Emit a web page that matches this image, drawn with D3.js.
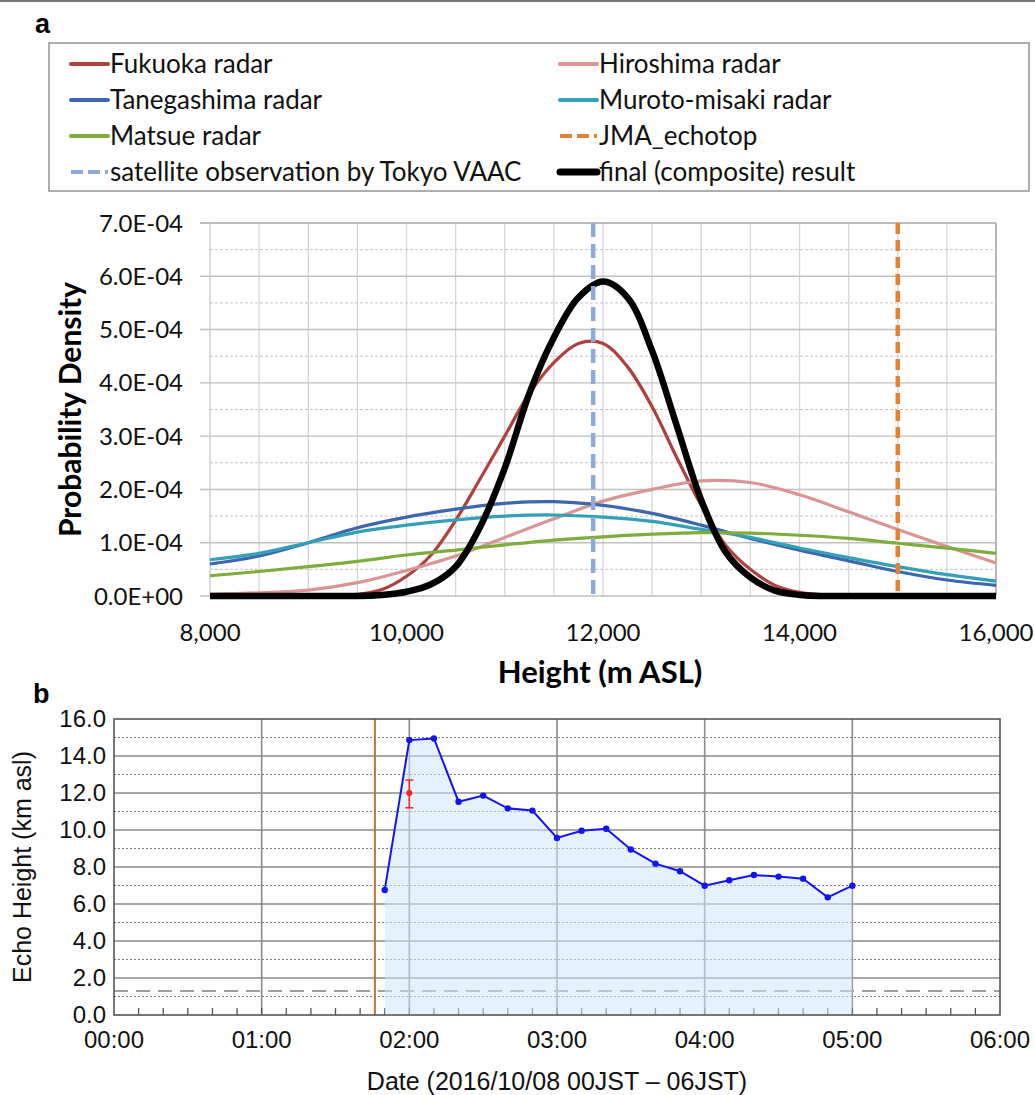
<!DOCTYPE html>
<html lang="en">
<head>
<meta charset="UTF-8">
<title>Echo height</title>
<script src="https://cdn.jsdelivr.net/npm/d3@7"></script>
<style>
  body { margin: 0; background: #fff; }
  svg { display: block; }
</style>
</head>
<body>
<svg width="1035" height="1095"></svg>
<script>
// ---- panel a : probability density (x 1e-4) against height (m ASL)
const heightsFine = [8000, 8250, 8500, 8750, 9000, 9250, 9500, 9750, 10000, 10250, 10500, 10750,
  11000, 11250, 11500, 11750, 12000, 12250, 12500, 12750, 13000, 13250, 13500, 13750,
  14000, 14250, 14500, 14750, 15000, 15250, 15500, 15750, 16000];
const fukuoka = [0, 0, 0, 0, 0, 0.01, 0.03, 0.12, 0.37, 0.77, 1.42, 2.2,
  3.0, 3.8, 4.38, 4.74, 4.74, 4.3, 3.55, 2.6, 1.7, 0.95, 0.5, 0.2,
  0.07, 0.02, 0.01, 0, 0, 0, 0, 0, 0];
const finalResult = [0, 0, 0, 0, 0, 0, 0, 0.02, 0.08, 0.22, 0.55, 1.3,
  2.4, 3.8, 4.85, 5.6, 5.9, 5.6, 4.6, 3.2, 1.8, 0.82, 0.35, 0.1,
  0.02, 0, 0, 0, 0, 0, 0, 0, 0];

const heightsWide = [8000, 8500, 9000, 9500, 10000, 10500, 11000, 11500, 12000,
  12500, 13000, 13500, 14000, 14500, 15000, 15500, 16000];
const hiroshima   = [0.03, 0.06, 0.11, 0.25, 0.48, 0.75, 1.1, 1.45, 1.78, 2.0, 2.16, 2.13, 1.9, 1.58, 1.25, 0.93, 0.62];
const tanegashima = [0.6, 0.75, 1.0, 1.28, 1.48, 1.63, 1.74, 1.77, 1.7, 1.55, 1.33, 1.08, 0.86, 0.66, 0.46, 0.3, 0.2];
const muroto      = [0.68, 0.8, 1.0, 1.2, 1.33, 1.43, 1.5, 1.52, 1.48, 1.4, 1.25, 1.1, 0.9, 0.72, 0.55, 0.4, 0.28];
const matsue      = [0.38, 0.46, 0.55, 0.65, 0.77, 0.86, 0.96, 1.05, 1.11, 1.16, 1.19, 1.18, 1.14, 1.08, 0.99, 0.9, 0.8];

const satelliteHeight = 11900;
const jmaEchotop = 15000;

// ---- panel b : echo height (km asl) against time (JST)
const echoTimes = ["01:50", "02:00", "02:10", "02:20", "02:30", "02:40", "02:50", "03:00", "03:10", "03:20",
  "03:30", "03:40", "03:50", "04:00", "04:10", "04:20", "04:30", "04:40", "04:50", "05:00"];
const echoHeights = [6.76, 14.86, 14.95, 11.53, 11.86, 11.17, 11.05, 9.57, 9.96, 10.07,
  8.95, 8.18, 7.77, 6.99, 7.28, 7.57, 7.48, 7.37, 6.36, 6.99];
const vaacTime = "02:00", vaacHeight = 12.0, vaacLow = 11.2, vaacHigh = 12.7;
const eruptionTime = "01:46";
const groundLevel = 1.3;
const hourLabels = ["00:00", "01:00", "02:00", "03:00", "04:00", "05:00", "06:00"];

const toMin = s => { const [h, m] = s.split(":").map(Number); return h * 60 + m; };

const svg = d3.select("svg");
const calibri = "Lato, Carlito, sans-serif";
const arial = "'Liberation Sans', Arial, sans-serif";

// figure frame line
svg.append("line").attr("x1", 0).attr("x2", 1035).attr("y1", 1).attr("y2", 1)
  .attr("stroke", "#777").attr("stroke-width", 2);

svg.append("text").attr("x", 35).attr("y", 33).attr("font-family", arial)
  .attr("font-weight", "bold").attr("font-size", 27).text("a");
svg.append("text").attr("x", 33).attr("y", 703).attr("font-family", arial)
  .attr("font-weight", "bold").attr("font-size", 27).text("b");

// ================= panel a
const xA = d3.scaleLinear().domain([8000, 16000]).range([210, 996]);
const yA = d3.scaleLinear().domain([0, 7]).range([596, 223]);

const gA = svg.append("g");

gA.append("g").selectAll("line").data(d3.range(8500, 16000, 500)).join("line")
  .attr("x1", d => xA(d)).attr("x2", d => xA(d)).attr("y1", yA(0)).attr("y2", yA(7))
  .attr("stroke", "#d6d6d6").attr("stroke-width", 1.3);

gA.append("g").selectAll("line").data(d3.range(0.5, 7, 1)).join("line")
  .attr("x1", xA(8000)).attr("x2", xA(16000)).attr("y1", d => yA(d)).attr("y2", d => yA(d))
  .attr("stroke", "#c4c4c4").attr("stroke-width", 1).attr("stroke-dasharray", "3,2");

gA.append("g").selectAll("line").data(d3.range(1, 7)).join("line")
  .attr("x1", xA(8000) - 10).attr("x2", xA(16000)).attr("y1", d => yA(d)).attr("y2", d => yA(d))
  .attr("stroke", "#c0c0c0").attr("stroke-width", 1.4);

// frame
gA.append("line").attr("x1", xA(8000) - 10).attr("x2", xA(16000)).attr("y1", yA(7)).attr("y2", yA(7))
  .attr("stroke", "#a6a6a6").attr("stroke-width", 1.6);
gA.append("line").attr("x1", xA(8000) - 10).attr("x2", xA(16000)).attr("y1", yA(0)).attr("y2", yA(0))
  .attr("stroke", "#c0c0c0").attr("stroke-width", 1.4);
gA.append("line").attr("x1", xA(16000)).attr("x2", xA(16000)).attr("y1", yA(0)).attr("y2", yA(7))
  .attr("stroke", "#a6a6a6").attr("stroke-width", 1.6);
gA.append("line").attr("x1", xA(8000)).attr("x2", xA(8000)).attr("y1", yA(0)).attr("y2", yA(7))
  .attr("stroke", "#c8c8c8").attr("stroke-width", 1.3);

// tick labels
gA.append("g").selectAll("text").data(d3.range(0, 8)).join("text")
  .attr("x", 183).attr("y", d => yA(d)).attr("dy", "0.36em").attr("text-anchor", "end")
  .attr("font-family", calibri).attr("font-size", 24).attr("fill", "#111")
  .text(d => d === 0 ? "0.0E+00" : d.toFixed(1) + "E-04");

gA.append("g").selectAll("text").data(d3.range(8000, 16001, 2000)).join("text")
  .attr("x", d => xA(d)).attr("y", 641).attr("text-anchor", "middle")
  .attr("font-family", calibri).attr("font-size", 24).attr("fill", "#111")
  .text(d => d3.format(",")(d));

gA.append("text").attr("x", 600).attr("y", 683).attr("text-anchor", "middle")
  .attr("font-family", calibri).attr("font-weight", "bold").attr("font-size", 31)
  .text("Height (m ASL)");
gA.append("text").attr("transform", `translate(81,${(yA(0) + yA(7)) / 2}) rotate(-90)`)
  .attr("text-anchor", "middle").attr("font-family", calibri).attr("font-weight", "bold")
  .attr("font-size", 30).text("Probability Density");

const seriesA = [
  { name: "Fukuoka radar", color: "#b0403d", xs: heightsFine, ys: fukuoka, w: 3.2 },
  { name: "Hiroshima radar", color: "#d99594", xs: heightsWide, ys: hiroshima, w: 3.2 },
  { name: "Tanegashima radar", color: "#3c66ad", xs: heightsWide, ys: tanegashima, w: 3.2 },
  { name: "Muroto-misaki radar", color: "#33a0b8", xs: heightsWide, ys: muroto, w: 3.2 },
  { name: "Matsue radar", color: "#7dad3d", xs: heightsWide, ys: matsue, w: 3.2 },
  { name: "final (composite) result", color: "#000", xs: heightsFine, ys: finalResult, w: 6.5 }
];

const lineA = d3.line().x(d => xA(d[0])).y(d => yA(d[1])).curve(d3.curveCatmullRom.alpha(0.5));
seriesA.forEach(s => {
  gA.append("path").datum(s.xs.map((x, i) => [x, s.ys[i]]))
    .attr("fill", "none").attr("stroke", s.color).attr("stroke-width", s.w)
    .attr("stroke-linejoin", "round").attr("d", lineA);
});

gA.append("line").attr("x1", xA(satelliteHeight)).attr("x2", xA(satelliteHeight))
  .attr("y1", yA(7)).attr("y2", yA(0)).attr("stroke", "#8eaad8").attr("stroke-width", 4.5)
  .attr("stroke-dasharray", "14,7");
gA.append("line").attr("x1", xA(jmaEchotop)).attr("x2", xA(jmaEchotop))
  .attr("y1", yA(7)).attr("y2", yA(0)).attr("stroke", "#e5812f").attr("stroke-width", 4.5)
  .attr("stroke-dasharray", "11,6");

// legend
const legend = svg.append("g");
legend.append("rect").attr("x", 49).attr("y", 43).attr("width", 980).attr("height", 148)
  .attr("fill", "none").attr("stroke", "#8c8c8c").attr("stroke-width", 1.4);
const legendItems = [
  { name: "Fukuoka radar", color: "#b0403d", w: 4, col: 0, row: 0 },
  { name: "Tanegashima radar", color: "#3c66ad", w: 4, col: 0, row: 1 },
  { name: "Matsue radar", color: "#7dad3d", w: 4, col: 0, row: 2 },
  { name: "satellite observation by Tokyo VAAC", color: "#8eaad8", w: 4, dash: "12,5", col: 0, row: 3 },
  { name: "Hiroshima radar", color: "#d99594", w: 4, col: 1, row: 0 },
  { name: "Muroto-misaki radar", color: "#33a0b8", w: 4, col: 1, row: 1 },
  { name: "JMA_echotop", color: "#e5812f", w: 4, dash: "12,5", col: 1, row: 2 },
  { name: "final (composite) result", color: "#000", w: 7, col: 1, row: 3 }
];
const colX = [71, 560], rowY = [64, 100, 136, 172];
legendItems.forEach(d => {
  const x0 = colX[d.col], y0 = rowY[d.row];
  legend.append("line").attr("x1", x0).attr("x2", x0 + 37).attr("y1", y0).attr("y2", y0)
    .attr("stroke", d.color).attr("stroke-width", d.w)
    .attr("stroke-dasharray", d.dash || null).attr("stroke-linecap", d.dash ? "butt" : "round");
  legend.append("text").attr("x", x0 + 39).attr("y", y0).attr("dy", "0.36em")
    .attr("font-family", calibri).attr("font-size", 26).attr("fill", "#111").text(d.name);
});

// ================= panel b
const xB = d3.scaleLinear().domain([0, 360]).range([114, 1000]);
const yB = d3.scaleLinear().domain([0, 16]).range([1015, 719]);
const gB = svg.append("g");

gB.append("g").selectAll("line").data(d3.range(1, 16, 2)).join("line")
  .attr("x1", xB(0)).attr("x2", xB(360)).attr("y1", d => yB(d)).attr("y2", d => yB(d))
  .attr("stroke", "#7a7a7a").attr("stroke-width", 1.2).attr("stroke-dasharray", "2,2");
gB.append("g").selectAll("line").data(d3.range(2, 16, 2)).join("line")
  .attr("x1", xB(0)).attr("x2", xB(360)).attr("y1", d => yB(d)).attr("y2", d => yB(d))
  .attr("stroke", "#8a8a8a").attr("stroke-width", 1.6);
gB.append("g").selectAll("line").data(d3.range(60, 360, 60)).join("line")
  .attr("x1", d => xB(d)).attr("x2", d => xB(d)).attr("y1", yB(0)).attr("y2", yB(16))
  .attr("stroke", "#8a8a8a").attr("stroke-width", 1.6);

gB.append("line").attr("x1", xB(0)).attr("x2", xB(360)).attr("y1", yB(groundLevel)).attr("y2", yB(groundLevel))
  .attr("stroke", "#a0a0a0").attr("stroke-width", 2).attr("stroke-dasharray", "14,8");

// minor ticks every 10 min
gB.append("g").selectAll("line").data(d3.range(10, 360, 10)).join("line")
  .attr("x1", d => xB(d)).attr("x2", d => xB(d)).attr("y1", yB(0)).attr("y2", yB(0) - 7)
  .attr("stroke", "#555").attr("stroke-width", 1.3);

const echo = echoTimes.map((t, i) => [toMin(t), echoHeights[i]]);
gB.append("path").datum(echo)
  .attr("fill", "#cfe5f8").attr("fill-opacity", 0.55)
  .attr("d", d3.area().x(d => xB(d[0])).y0(yB(0)).y1(d => yB(d[1])));

gB.append("line").attr("x1", xB(toMin(eruptionTime))).attr("x2", xB(toMin(eruptionTime)))
  .attr("y1", yB(0)).attr("y2", yB(16)).attr("stroke", "#b5773a").attr("stroke-width", 2);

gB.append("rect").attr("x", xB(0)).attr("y", yB(16)).attr("width", xB(360) - xB(0))
  .attr("height", yB(0) - yB(16)).attr("fill", "none").attr("stroke", "#555").attr("stroke-width", 1.6);

gB.append("path").datum(echo).attr("fill", "none").attr("stroke", "#1414f0").attr("stroke-width", 2)
  .attr("d", d3.line().x(d => xB(d[0])).y(d => yB(d[1])));
gB.append("g").selectAll("circle").data(echo).join("circle")
  .attr("cx", d => xB(d[0])).attr("cy", d => yB(d[1])).attr("r", 3.2).attr("fill", "#1414f0");

// VAAC satellite point with error bar
const vx = xB(toMin(vaacTime));
gB.append("line").attr("x1", vx).attr("x2", vx).attr("y1", yB(vaacLow)).attr("y2", yB(vaacHigh))
  .attr("stroke", "#ff2020").attr("stroke-width", 1.5);
[vaacLow, vaacHigh].forEach(v => gB.append("line").attr("x1", vx - 4).attr("x2", vx + 4)
  .attr("y1", yB(v)).attr("y2", yB(v)).attr("stroke", "#ff2020").attr("stroke-width", 1.5));
gB.append("circle").attr("cx", vx).attr("cy", yB(vaacHeight)).attr("r", 3).attr("fill", "#ff2020");

gB.append("g").selectAll("text").data(d3.range(0, 17, 2)).join("text")
  .attr("x", 106).attr("y", d => yB(d)).attr("dy", "0.35em").attr("text-anchor", "end")
  .attr("font-family", arial).attr("font-size", 24).attr("fill", "#111").text(d => d.toFixed(1));
gB.append("g").selectAll("text").data(hourLabels).join("text")
  .attr("x", d => xB(toMin(d))).attr("y", 1048).attr("text-anchor", "middle")
  .attr("font-family", arial).attr("font-size", 24).attr("fill", "#111").text(d => d);

gB.append("text").attr("x", 557).attr("y", 1090).attr("text-anchor", "middle")
  .attr("font-family", arial).attr("font-size", 25).attr("fill", "#111")
  .text("Date (2016/10/08 00JST \u2013 06JST)");
gB.append("text").attr("transform", `translate(31,${(yB(0) + yB(16)) / 2}) rotate(-90)`)
  .attr("text-anchor", "middle").attr("font-family", arial).attr("font-size", 25).attr("fill", "#111")
  .text("Echo Height (km asl)");
</script>
</body>
</html>
